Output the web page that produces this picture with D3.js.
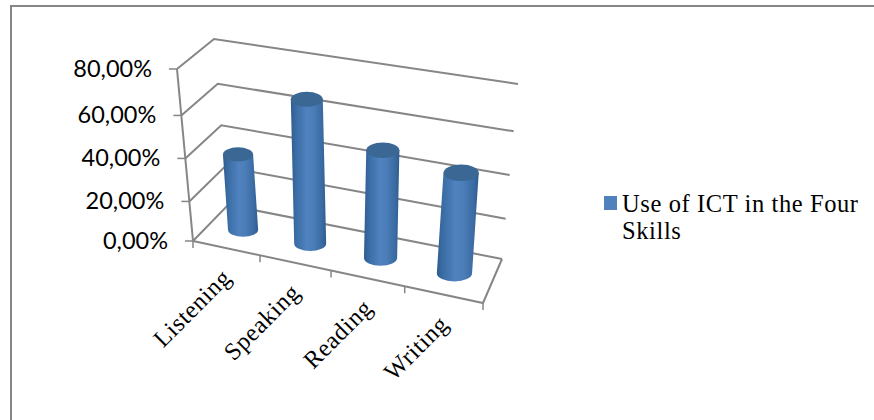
<!DOCTYPE html>
<html>
<head>
<meta charset="utf-8">
<script src="https://cdn.jsdelivr.net/npm/d3@7"></script>
<style>
  html, body { margin: 0; padding: 0; background: #fff; }
  svg { display: block; }
</style>
</head>
<body>
<svg id="chart"></svg>
<script>
// Chart values
const categories = ["Listening", "Speaking", "Reading", "Writing"];
const useOfIct = [37, 68, 51, 47];
const valueTicks = [0, 20, 40, 60, 80];
const seriesName = ["Use of ICT in the Four", "Skills"];

const width = 874, height = 420;
const svg = d3.select("#chart").attr("width", width).attr("height", height);

// Corners of the 3D box on screen: [x, y]
const floor = { fl: [193, 241], fr: [483, 303], bl: [228, 205], br: [502, 259] };
const roof = { fl: [177, 69], fr: [499, 122], bl: [214, 39], br: [518, 84] };

// Perspective makes the bands and gridline gaps uneven
const uScale = d3.scaleLinear().domain([0, 1, 2, 3, 4]).range([0, 0.231, 0.476, 0.73, 1]);
const tScale = d3.scaleLinear().domain(valueTicks).range([0, 0.23, 0.48, 0.73, 1]);

const mix = (a, b, t) => [a[0] + (b[0] - a[0]) * t, a[1] + (b[1] - a[1]) * t];

// u: along categories, v: value, w: depth (0 front, 1 back)
function project(u, v, w) {
  const t = tScale(v);
  const lo = mix(mix(floor.fl, floor.fr, u), mix(floor.bl, floor.br, u), w);
  const hi = mix(mix(roof.fl, roof.fr, u), mix(roof.bl, roof.br, u), w);
  return mix(lo, hi, t);
}

const line = d3.line();
const wallColor = "#868686";

// Gridlines along the left wall and the back wall
const grid = svg.append("g").attr("fill", "none").attr("stroke", wallColor).attr("stroke-width", 2);
grid.selectAll("path")
  .data(valueTicks)
  .enter()
  .append("path")
  .attr("d", v => line([project(0, v, 0), project(0, v, 1), project(1, v, 1)]));

// Floor front and right edges
grid.append("path").attr("d", line([project(0, 0, 0), project(1, 0, 0), project(1, 0, 1)]));

// Value axis with tick marks
grid.append("path").attr("d", line([project(0, 0, 0), project(0, 80, 0)]));
grid.append("g").attr("stroke-width", 1.5).selectAll("path")
  .data(valueTicks)
  .enter()
  .append("path")
  .attr("d", v => {
    const p = project(0, v, 0);
    return line([[p[0] - 8, p[1]], p]);
  });

// Category tick marks
grid.append("g").attr("stroke-width", 1.5).selectAll("path")
  .data(d3.range(5))
  .enter()
  .append("path")
  .attr("d", i => {
    const p = project(uScale(i), 0, 0);
    return line([p, [p[0], p[1] + 7]]);
  });

// Cylinder shading
const defs = svg.append("defs");
const grad = defs.append("linearGradient").attr("id", "barFill");
[[0, "#2f5c8f"], [0.14, "#3a6ca4"], [0.45, "#4f82bf"], [0.62, "#4c7eb9"], [0.88, "#3a6ba2"], [1, "#2f5c8f"]]
  .forEach(s => grad.append("stop").attr("offset", s[0]).attr("stop-color", s[1]));

// Bars
const bars = svg.append("g");
categories.forEach((name, i) => {
  const u = (uScale(i) + uScale(i + 1)) / 2;
  const base = project(u, 0, 0.5);
  const top = project(u, useOfIct[i], 0.5);
  const band = project(uScale(i + 1), 0, 0)[0] - project(uScale(i), 0, 0)[0];
  const rx = band * 0.225;
  const ry = rx * 0.47;
  const d = `M${top[0] - rx},${top[1]}` +
    `L${base[0] - rx},${base[1]}` +
    `A${rx},${ry} 0 0 0 ${base[0] + rx},${base[1]}` +
    `L${top[0] + rx},${top[1]}Z`;
  bars.append("path").attr("d", d).attr("fill", "url(#barFill)");
  bars.append("ellipse")
    .attr("cx", top[0]).attr("cy", top[1])
    .attr("rx", rx).attr("ry", ry)
    .attr("fill", "#3b6795");
});

// Value labels
svg.append("g").selectAll("text")
  .data(valueTicks)
  .enter()
  .append("text")
  .attr("x", v => project(0, v, 0)[0] - 25)
  .attr("y", v => project(0, v, 0)[1] + 8)
  .attr("text-anchor", "end")
  .attr("font-family", "Lato")
  .attr("font-size", 23.5)
  .attr("fill", "#000")
  .text(v => v.toFixed(2).replace(".", ",") + "%");

// Category labels, rotated 45 degrees and ending near the band centre
svg.append("g").selectAll("text")
  .data(categories)
  .enter()
  .append("text")
  .attr("transform", (d, i) => {
    const p = project((uScale(i) + uScale(i + 1)) / 2, 0, 0);
    return `translate(${p[0] + 6},${p[1] + 31}) rotate(-45)`;
  })
  .attr("text-anchor", "end")
  .attr("font-family", "Liberation Serif")
  .attr("font-size", 24.5)
  .attr("letter-spacing", 0.6)
  .attr("fill", "#000")
  .text(d => d);

// Legend
svg.append("rect").attr("x", 604).attr("y", 196).attr("width", 13).attr("height", 14).attr("fill", "#4f81bd");
svg.append("g").selectAll("text")
  .data(seriesName)
  .enter()
  .append("text")
  .attr("x", 622)
  .attr("y", (d, i) => 212 + i * 27)
  .attr("font-family", "Liberation Serif")
  .attr("font-size", 24.5)
  .attr("letter-spacing", 0.6)
  .attr("fill", "#000")
  .text(d => d);

// Outer frame, open on the right and at the bottom
svg.append("path")
  .attr("d", line([[11, height], [11, 6], [width, 6]]))
  .attr("fill", "none")
  .attr("stroke", wallColor)
  .attr("stroke-width", 2);
</script>
</body>
</html>
